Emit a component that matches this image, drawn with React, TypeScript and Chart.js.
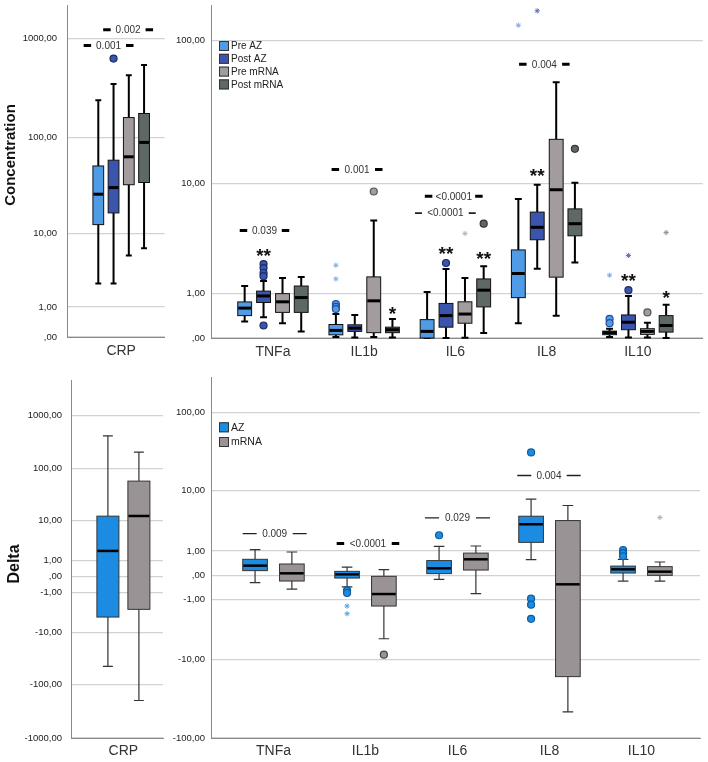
import React, { useEffect, useRef } from "react";
import { Chart, registerables } from "chart.js";
Chart.register(...registerables);

const FONT = "'Liberation Sans', Arial, sans-serif";

// ---------------- DATA ----------------
const crpCategory = ["CRP"];
const cytokines = ["TNFa", "IL1b", "IL6", "IL8", "IL10"];
const concSeriesNames = ["Pre AZ", "Post AZ", "Pre mRNA", "Post mRNA"];
const deltaSeriesNames = ["AZ", "mRNA"];

// box stats per category: [low whisker, Q1, median, Q3, high whisker]
const crpConcPreAZ = [[2.45, 12.5, 26.3, 51.5, 239]];
const crpConcPostAZ = [[2.45, 16.7, 30.8, 59, 350]];
const crpConcPreMRNA = [[5.6, 33, 63.9, 160, 429]];
const crpConcPostMRNA = [[6.8, 34.8, 89.6, 176, 543]];

const cytoConcPreAZ = [
  [0.29, 0.415, 0.59, 0.75, 1.24],
  [0.015, 0.05, 0.125, 0.233, 0.45],
  [0, 0, 0.108, 0.33, 1.04],
  [0.258, 0.87, 1.72, 2.92, 7.63],
  [0.015, 0.053, 0.086, 0.113, 0.155],
];
const cytoConcPostAZ = [
  [0.378, 0.734, 0.92, 1.07, 1.42],
  [0.006, 0.108, 0.165, 0.227, 0.43],
  [0, 0.183, 0.415, 0.71, 1.92],
  [1.93, 3.59, 4.57, 6.05, 9.76],
  [0.006, 0.137, 0.277, 0.43, 0.92],
];
const cytoConcPreMRNA = [
  [0.258, 0.488, 0.753, 0.99, 1.54],
  [0.015, 0.086, 0.78, 1.58, 5.2],
  [0.005, 0.258, 0.45, 0.753, 1.54],
  [0.41, 1.57, 8.97, 20.8, 51.8],
  [0.006, 0.058, 0.108, 0.155, 0.265],
];
const cytoConcPostMRNA = [
  [0.108, 0.488, 0.872, 1.24, 1.58],
  [0.006, 0.086, 0.137, 0.183, 0.345],
  [0.08, 0.62, 1.1, 1.5, 2.04],
  [2.23, 3.88, 4.89, 6.41, 10.1],
  [0, 0.096, 0.214, 0.415, 0.674],
];

const crpDeltaAZ = [[-45.8, -4.65, 2.0, 12.3, 414]];
const crpDeltaMRNA = [[-200, -3.06, 12.4, 58.6, 205]];

const cytoDeltaAZ = [
  [-0.23, 0.143, 0.316, 0.576, 1.08],
  [-0.39, -0.08, 0.028, 0.12, 0.266],
  [-0.12, 0.05, 0.22, 0.52, 1.28],
  [0.56, 1.55, 3.26, 4.35, 7.68],
  [-0.175, 0.068, 0.186, 0.3, 0.576],
];
const cytoDeltaMRNA = [
  [-0.475, -0.175, 0.059, 0.38, 0.94],
  [-5.04, -1.39, -0.7, -0.028, 0.175],
  [-0.68, 0.162, 0.576, 0.88, 1.3],
  [-47.2, -16.7, -0.29, 3.73, 6.25],
  [-0.175, 0, 0.11, 0.28, 0.46],
];

// outliers: [category index, value]
const crpConcPostAZCircles = [[0, 630]];
const cytoConcPreAZCircles = [[1, 0.69], [1, 0.62], [1, 0.567], [4, 0.345], [4, 0.258]];
const cytoConcPreAZStars = [[1, 2.09], [1, 1.5], [3, 127], [4, 1.65]];
const cytoConcPostAZCircles = [[0, 2.15], [0, 1.96], [0, 1.74], [0, 1.61], [0, 0.214], [2, 2.2], [4, 1.1]];
const cytoConcPostAZStars = [[3, 159], [4, 2.6]];
const cytoConcPreMRNACircles = [[1, 8.7], [4, 0.488]];
const cytoConcPreMRNAStars = [[2, 4.06]];
const cytoConcPostMRNACircles = [[2, 4.89], [3, 17.8]];
const cytoConcPostMRNAStars = [[4, 4.13]];

const cytoDeltaAZCircles = [[1, -0.53], [1, -0.65], [2, 2.12], [3, 31.7], [3, -0.94], [3, -1.3], [3, -2.43], [4, 1.04], [4, 0.88], [4, 0.72]];
const cytoDeltaAZStars = [[1, -1.39], [1, -1.97]];
const cytoDeltaMRNACircles = [[1, -8.5]];
const cytoDeltaMRNAStars = [[4, 4.16]];

// axis tick values
const crpConcTicks = [0, 1, 10, 100, 1000];
const cytoConcTicks = [0, 1, 10, 100];
const crpDeltaTicks = [-1000, -100, -10, -1, 0, 1, 10, 100, 1000];
const cytoDeltaTicks = [-100, -10, -1, 0, 1, 10, 100];

// p-value brackets: x range in category units, y value
const crpConcPvals = [
  { from: -0.384, to: 0.126, y: 852, text: "0.001", style: "thick" },
  { from: -0.184, to: 0.326, y: 1227, text: "0.002", style: "thick" },
];
const cytoConcPvals = [
  { from: -0.364, to: 0.179, y: 4.29, text: "0.039", style: "thick" },
  { from: 0.643, to: 1.201, y: 12.66, text: "0.001", style: "thick" },
  { from: 1.665, to: 2.299, y: 8.0, text: "<0.0001", style: "thick" },
  { from: 1.557, to: 2.223, y: 5.94, text: "<0.0001", style: "short" },
  { from: 2.698, to: 3.252, y: 68.8, text: "0.004", style: "thick" },
];
const cytoDeltaPvals = [
  { from: -0.335, to: 0.361, y: 2.27, text: "0.009", style: "thin" },
  { from: 0.687, to: 1.367, y: 1.46, text: "<0.0001", style: "thick" },
  { from: 1.647, to: 2.353, y: 4.1, text: "0.029", style: "thin" },
  { from: 2.65, to: 3.339, y: 16.0, text: "0.004", style: "thin" },
];
// significance asterisks: category, series, y value
const cytoConcSig = [
  { c: 0, s: 1, y: 2.82, t: "**" },
  { c: 1, s: 3, y: 0.574, t: "*" },
  { c: 2, s: 1, y: 2.94, t: "**" },
  { c: 2, s: 3, y: 2.65, t: "**" },
  { c: 3, s: 1, y: 12.4, t: "**" },
  { c: 4, s: 1, y: 1.61, t: "**" },
  { c: 4, s: 3, y: 0.99, t: "*" },
];

// ---------------- HELPERS ----------------
const tf = (v: number) => Math.sign(v) * Math.log10(Math.abs(v) + 1);
const inv = (t: number) => Math.sign(t) * (Math.pow(10, Math.abs(t)) - 1);
const fmt = (v: number) => {
  const r = Math.round(v);
  if (r === 0) return ",00";
  return r.toFixed(2).replace(".", ",");
};

const concStyles = [
  { color: "#4f9be6", ring: "#23509a", star: "#7eaee8" },
  { color: "#3b55ad", ring: "#1b2a66", star: "#5d70c0" },
  { color: "#a39c9e", ring: "#555555", star: "#b9b4b6" },
  { color: "#5e6964", ring: "#333333", star: "#8e9390" },
];
const deltaStyles = [
  { color: "#1c8ce3", ring: "#115a9a", star: "#4fa7e8" },
  { color: "#9a9395", ring: "#444444", star: "#b3b3b3" },
];

function mkSeries(names: string[], styles: any[], boxes: number[][][], circles: number[][][], stars: number[][][]) {
  return names.map((n, i) => ({ name: n, ...styles[i], boxes: boxes[i], circles: circles[i], stars: stars[i] }));
}

const panels: any[] = [
  {
    key: "p1", left: 0, top: 0, width: 170, height: 365,
    yAxisW: 67, padTop: 0, padRight: 3, xAxisH: 28, yLabelPad: 10, xLabelPad: 6,
    yMin: 0, yMax: 3.337, yTicks: crpConcTicks,
    xMin: -0.554, xMax: 0.446, cats: crpCategory,
    offsets: [-0.234, -0.078, 0.078, 0.234], boxW: 0.11, capFrac: 0.55,
    whiskerColor: "#000", whiskerW: 2, boxBorder: "#111", medianW: 3,
    series: mkSeries(concSeriesNames, concStyles,
      [crpConcPreAZ, crpConcPostAZ, crpConcPreMRNA, crpConcPostMRNA],
      [[], crpConcPostAZCircles, [], []], [[], [], [], []]),
    pvals: crpConcPvals, sig: [], legend: null,
    title: { text: "Concentration", x: 11, y: 155, size: 15 },
  },
  {
    key: "p2", left: 170, top: 0, width: 538, height: 365,
    yAxisW: 41, padTop: 0, padRight: 1, xAxisH: 27, yLabelPad: 6, xLabelPad: 6,
    yMin: 0, yMax: 2.242, yTicks: cytoConcTicks,
    xMin: -0.679, xMax: 4.712, cats: cytokines,
    offsets: [-0.31, -0.103, 0.105, 0.31], boxW: 0.152, capFrac: 0.5,
    whiskerColor: "#000", whiskerW: 2, boxBorder: "#111", medianW: 3,
    series: mkSeries(concSeriesNames, concStyles,
      [cytoConcPreAZ, cytoConcPostAZ, cytoConcPreMRNA, cytoConcPostMRNA],
      [cytoConcPreAZCircles, cytoConcPostAZCircles, cytoConcPreMRNACircles, cytoConcPostMRNACircles],
      [cytoConcPreAZStars, cytoConcPostAZStars, cytoConcPreMRNAStars, cytoConcPostMRNAStars]),
    pvals: cytoConcPvals, sig: cytoConcSig,
    legend: { x: 49, y: 46, step: 12.8, sw: 10, size: 10 },
    title: null,
  },
  {
    key: "p3", left: 0, top: 370, width: 170, height: 392,
    yAxisW: 71, padTop: 10, padRight: 7, xAxisH: 24, yLabelPad: 9, xLabelPad: 5,
    yMin: -3.0004, yMax: 3.655, yTicks: crpDeltaTicks,
    xMin: -0.524, xMax: 0.396, cats: crpCategory,
    offsets: [-0.155, 0.155], boxW: 0.22, capFrac: 0.45,
    whiskerColor: "#333", whiskerW: 1.2, boxBorder: "#333", medianW: 2.5,
    series: mkSeries(deltaSeriesNames, deltaStyles, [crpDeltaAZ, crpDeltaMRNA], [[], []], [[], []]),
    pvals: [], sig: [], legend: null,
    title: { text: "Delta", x: 15, y: 194, size: 16 },
  },
  {
    key: "p4", left: 170, top: 370, width: 538, height: 392,
    yAxisW: 41, padTop: 7, padRight: 8, xAxisH: 24, yLabelPad: 6, xLabelPad: 5,
    yMin: -2.0043, yMax: 2.444, yTicks: cytoDeltaTicks,
    xMin: -0.679, xMax: 4.636, cats: cytokines,
    offsets: [-0.2, 0.2], boxW: 0.268, capFrac: 0.43,
    whiskerColor: "#333", whiskerW: 1.2, boxBorder: "#333", medianW: 2.5,
    series: mkSeries(deltaSeriesNames, deltaStyles, [cytoDeltaAZ, cytoDeltaMRNA],
      [cytoDeltaAZCircles, cytoDeltaMRNACircles], [cytoDeltaAZStars, cytoDeltaMRNAStars]),
    pvals: cytoDeltaPvals, sig: [],
    legend: { x: 49, y: 57.3, step: 14.7, sw: 10, size: 10.5 },
    title: null,
  },
];

const dashStyles: any = {
  thick: { len: 7.5, width: 3, color: "#000" },
  short: { len: 7, width: 1.6, color: "#222" },
  thin: { len: 14, width: 1.3, color: "#222" },
};

function makePlugin(p: any) {
  return {
    id: "boxplot_" + p.key,
    beforeDatasetsDraw(chart: any) {
      const ctx = chart.ctx;
      const xs = chart.scales.x;
      const ys = chart.scales.y;
      const unit = Math.abs(xs.getPixelForValue(1) - xs.getPixelForValue(0));
      const bw = p.boxW * unit;
      const cap = bw * p.capFrac;
      p.series.forEach((s: any, si: number) => {
        s.boxes.forEach((b: number[], ci: number) => {
          const cx = xs.getPixelForValue(ci + p.offsets[si]);
          const [lo, q1, md, q3, hi] = b.map((v) => ys.getPixelForValue(tf(v)));
          ctx.save();
          ctx.strokeStyle = p.whiskerColor;
          ctx.lineWidth = p.whiskerW;
          ctx.beginPath();
          ctx.moveTo(cx, q3); ctx.lineTo(cx, hi);
          ctx.moveTo(cx - cap / 2, hi); ctx.lineTo(cx + cap / 2, hi);
          ctx.moveTo(cx, q1); ctx.lineTo(cx, lo);
          ctx.moveTo(cx - cap / 2, lo); ctx.lineTo(cx + cap / 2, lo);
          ctx.stroke();
          ctx.fillStyle = s.color;
          ctx.fillRect(cx - bw / 2, q3, bw, q1 - q3);
          ctx.strokeStyle = p.boxBorder;
          ctx.lineWidth = 1;
          ctx.strokeRect(cx - bw / 2, q3, bw, q1 - q3);
          ctx.strokeStyle = "#000";
          ctx.lineWidth = p.medianW;
          ctx.beginPath();
          ctx.moveTo(cx - bw / 2 + 0.5, md);
          ctx.lineTo(cx + bw / 2 - 0.5, md);
          ctx.stroke();
          ctx.restore();
        });
      });
    },
    afterDraw(chart: any) {
      const ctx = chart.ctx;
      const xs = chart.scales.x;
      const ys = chart.scales.y;
      ctx.save();
      // p-value brackets
      p.pvals.forEach((a: any) => {
        const x1 = xs.getPixelForValue(a.from);
        const x2 = xs.getPixelForValue(a.to);
        const y = ys.getPixelForValue(tf(a.y));
        const d = dashStyles[a.style];
        ctx.strokeStyle = d.color;
        ctx.lineWidth = d.width;
        ctx.beginPath();
        ctx.moveTo(x1, y); ctx.lineTo(x1 + d.len, y);
        ctx.moveTo(x2 - d.len, y); ctx.lineTo(x2, y);
        ctx.stroke();
        ctx.fillStyle = "#333";
        ctx.font = `10px ${FONT}`;
        ctx.textAlign = "center";
        ctx.textBaseline = "middle";
        ctx.fillText(a.text, (x1 + x2) / 2, y + 0.5);
      });
      // asterisks
      p.sig.forEach((g: any) => {
        const x = xs.getPixelForValue(g.c + p.offsets[g.s]);
        const y = ys.getPixelForValue(tf(g.y));
        const fs = 19;
        ctx.fillStyle = "#111";
        ctx.font = `bold ${fs}px ${FONT}`;
        ctx.textAlign = "center";
        ctx.textBaseline = "alphabetic";
        ctx.fillText(g.t, x, y + 0.57 * fs);
      });
      // legend
      if (p.legend) {
        const L = p.legend;
        p.series.forEach((s: any, i: number) => {
          const yy = L.y + i * L.step;
          ctx.fillStyle = s.color;
          ctx.fillRect(L.x, yy - L.sw / 2, L.sw, L.sw);
          ctx.strokeStyle = "#333";
          ctx.lineWidth = 1;
          ctx.strokeRect(L.x + 0.5, yy - L.sw / 2 + 0.5, L.sw - 1, L.sw - 1);
          ctx.fillStyle = "#222";
          ctx.font = `${L.size}px ${FONT}`;
          ctx.textAlign = "left";
          ctx.textBaseline = "middle";
          ctx.fillText(s.name, L.x + L.sw + 2, yy + 0.5);
        });
      }
      // axis title
      if (p.title) {
        ctx.translate(p.title.x, p.title.y);
        ctx.rotate(-Math.PI / 2);
        ctx.fillStyle = "#111";
        ctx.font = `bold ${p.title.size}px ${FONT}`;
        ctx.textAlign = "center";
        ctx.textBaseline = "middle";
        ctx.fillText(p.title.text, 0, 0);
      }
      ctx.restore();
    },
  };
}

function buildConfig(p: any): any {
  const datasets: any[] = [];
  p.series.forEach((s: any, si: number) => {
    datasets.push({
      label: s.name + " outliers",
      data: s.circles.map(([c, v]: number[]) => ({ x: c + p.offsets[si], y: tf(v) })),
      pointStyle: "circle",
      pointRadius: 3.5,
      backgroundColor: s.color,
      borderColor: s.ring,
      borderWidth: 1.2,
      clip: false,
    });
    datasets.push({
      label: s.name + " extremes",
      data: s.stars.map(([c, v]: number[]) => ({ x: c + p.offsets[si], y: tf(v) })),
      pointStyle: "star",
      pointRadius: 2.6,
      backgroundColor: s.star,
      borderColor: s.star,
      borderWidth: 1,
      clip: false,
    });
  });
  return {
    type: "scatter",
    data: { datasets },
    options: {
      responsive: false,
      maintainAspectRatio: false,
      animation: false,
      devicePixelRatio: 1,
      events: [],
      layout: { padding: { top: p.padTop, right: p.padRight, left: 0, bottom: 0 } },
      plugins: { legend: { display: false }, tooltip: { enabled: false } },
      scales: {
        x: {
          type: "linear",
          min: p.xMin,
          max: p.xMax,
          afterBuildTicks: (s: any) => {
            s.ticks = p.cats.map((_: string, i: number) => ({ value: i }));
          },
          afterFit: (s: any) => {
            s.height = p.xAxisH;
            s.paddingLeft = 0;
            s.paddingRight = 0;
          },
          ticks: {
            callback: (v: number) => p.cats[Math.round(v)] ?? "",
            font: { family: FONT, size: 14 },
            color: "#333",
            padding: p.xLabelPad,
            maxRotation: 0,
            autoSkip: false,
          },
          grid: { display: false, drawTicks: false },
          border: { display: true, color: "#8a8a8a", width: 1 },
        },
        y: {
          type: "linear",
          min: p.yMin,
          max: p.yMax,
          afterBuildTicks: (s: any) => {
            s.ticks = p.yTicks.map((v: number) => ({ value: tf(v) }));
          },
          afterFit: (s: any) => {
            s.width = p.yAxisW;
            s.paddingTop = 0;
            s.paddingBottom = 0;
          },
          ticks: {
            callback: (v: number) => fmt(inv(v)),
            font: { family: FONT, size: 9.5 },
            color: "#222",
            padding: p.yLabelPad,
            autoSkip: false,
          },
          grid: { color: "#d2d2d2", lineWidth: 1.2, drawTicks: false },
          border: { display: true, color: "#8a8a8a", width: 1 },
        },
      },
    },
    plugins: [makePlugin(p)],
  };
}

function PanelChart({ panel }: { panel: any }) {
  const ref = useRef<HTMLCanvasElement | null>(null);
  useEffect(() => {
    if (!ref.current) return;
    const chart = new Chart(ref.current, buildConfig(panel));
    return () => chart.destroy();
  }, [panel]);
  return (
    <canvas
      ref={ref}
      width={panel.width}
      height={panel.height}
      style={{ position: "absolute", left: panel.left, top: panel.top, width: panel.width, height: panel.height }}
    />
  );
}

export default function App() {
  return (
    <div style={{ position: "absolute", left: 0, top: 0, width: 708, height: 762, background: "#fff", overflow: "hidden" }}>
      {panels.map((p) => (
        <PanelChart key={p.key} panel={p} />
      ))}
    </div>
  );
}
